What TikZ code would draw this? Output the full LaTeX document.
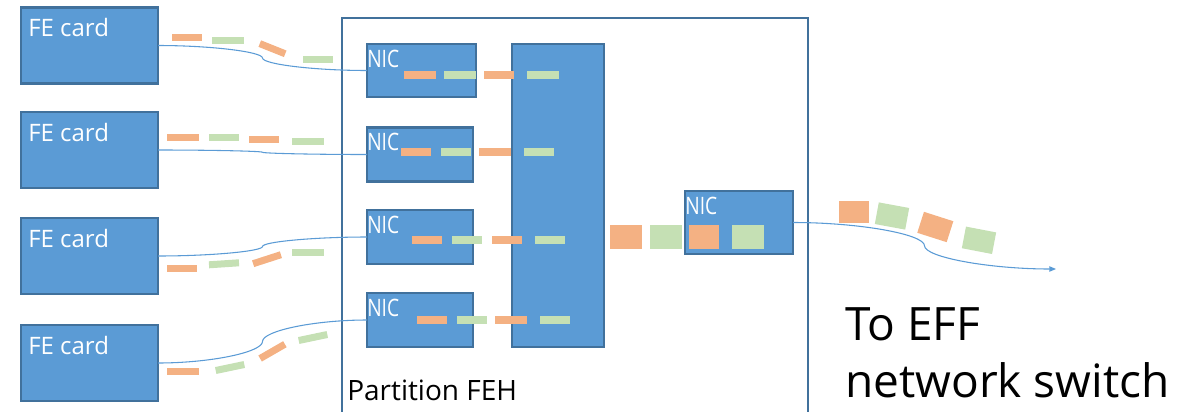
\documentclass[tikz,border=0pt]{standalone}
\usepackage{fontspec}
\setmainfont{Open Sans}
\newfontfamily\nicfont[FakeStretch=0.8]{Open Sans}
\usetikzlibrary{calc,arrows.meta}

\definecolor{boxblue}{HTML}{5B9BD5}
\definecolor{boxedge}{HTML}{41719C}
\definecolor{pktorange}{HTML}{F4B183}
\definecolor{pktgreen}{HTML}{C5E0B4}

% S-shaped connector: flat at both ends, steep in the middle
\newcommand\curvelink[3][]{%
  \path (#2) coordinate (ca) (#3) coordinate (cb)
    ($(ca)!0.25!(cb)$) coordinate (cq)
    ($(ca)!0.5!(cb)$) coordinate (cm)
    ($(ca)!0.75!(cb)$) coordinate (cr);
  \draw[link,#1] (ca) .. controls (cq |- ca) and (cm |- cq) .. (cm)
    .. controls (cm |- cr) and (cr |- cb) .. (cb);}

\tikzset{
  unit/.style={rectangle, fill=boxblue, draw=boxedge, line width=1.9pt,
    inner sep=0pt, outer sep=0pt},
  fecard/.style={unit, minimum width=102.75pt, minimum height=57pt},
  nicbox/.style={unit, minimum width=79.5pt, minimum height=40.5pt},
  link/.style={draw=boxblue, line width=0.8pt},
  boxlabel/.style={anchor=base west, inner sep=0pt, text=white,
    font=\fontsize{18}{20}\selectfont},
  niclabel/.style={boxlabel, font=\nicfont\fontsize{18}{20}\selectfont},
  bigtext/.style={anchor=base west, inner sep=0pt, text=black},
  pkt/.style={line width=5.25pt},
  inpkt/.style={line width=6pt},
  bigpkt/.style={line width=18pt},
  outpkt/.style={line width=16.5pt},
}

\begin{document}
\begin{tikzpicture}[x=0.75pt,y=-0.75pt]
\useasboundingbox (0,0) rectangle (1199,411);

% partition frame (continues below the page)
\node[draw=boxedge, line width=2pt, inner sep=0pt, outer sep=0pt,
  minimum width=349.5pt, minimum height=330pt, anchor=north west]
  (part) at (342,18) {};
\node[bigtext, font=\fontsize{21}{24}\selectfont] (partlabel) at (347,400) {Partition FEH};

% front-end cards
\node[fecard] (fe1) at (89.5,45.5) {};
\node[fecard] (fe2) at (89.5,150) {};
\node[fecard] (fe3) at (89.5,256) {};
\node[fecard] (fe4) at (89.5,363) {};
\foreach \i in {1,...,4}
  \node[boxlabel] (fe\i t) at ($(fe\i.north west)+(7,29)$) {FE card};

% NICs, switch and uplink NIC
\node[nicbox, minimum width=81.75pt, minimum height=39.75pt] (nic1) at (421.5,70.5) {};
\node[nicbox] (nic2) at (420,154.5) {};
\node[nicbox] (nic3) at (420,237) {};
\node[nicbox] (nic4) at (420,320) {};
\node[unit, minimum width=69pt, minimum height=227.25pt] (switch) at (558,195.5) {};
\node[unit, minimum width=81pt, minimum height=47.25pt] (nicout) at (739,222.5) {};
\foreach \n in {nic1,nic2,nic3,nic4,nicout}
  \node[niclabel] (\n t) at ($(\n.north west)+(0,23)$) {NIC};

% cables
\curvelink{fe1.east}{nic1.west}
\curvelink{fe2.east}{nic2.west}
\curvelink{fe3.east}{nic3.west}
\curvelink{fe4.east}{nic4.west}
\coordinate (swend) at (1056,269);
\curvelink[-{Triangle[length=5pt,width=4pt]}]{nicout.east}{swend}

% packets on the cables
\draw[pkt, pktorange] (172,37) -- (202,37);
\draw[pkt, pktgreen] (212,40) -- (244,40);
\draw[pkt, pktorange] (259.8,43.6) -- (285.2,53.8);
\draw[pkt, pktgreen] (303,59) -- (333,59);

\draw[pkt, pktorange] (167,137) -- (199,137);
\draw[pkt, pktgreen] (209,137) -- (239,137);
\draw[pkt, pktorange] (249,139) -- (279,139);
\draw[pkt, pktgreen] (292,141) -- (324,141);

\draw[pkt, pktorange] (167,268.8) -- (197,268.8);
\draw[pkt, pktgreen] (209,264.8) -- (239,262.8);
\draw[pkt, pktorange] (253.1,263.7) -- (280.9,254.7);
\draw[pkt, pktgreen] (292,252.8) -- (324,252.8);

\draw[pkt, pktorange] (167,371) -- (199,371);
\draw[pkt, pktgreen] (215.7,370.5) -- (244.3,364.5);
\draw[pkt, pktorange] (260.1,358.5) -- (284.9,344.2);
\draw[pkt, pktgreen] (298.7,340.5) -- (327.3,334.5);

% packets inside the partition
\draw[inpkt, pktorange] (404,75) -- (436,75);
\draw[inpkt, pktgreen] (444,75) -- (476,75);
\draw[inpkt, pktorange] (484,75) -- (514,75);
\draw[inpkt, pktgreen] (527,75) -- (559,75);

\draw[inpkt, pktorange] (401,152) -- (431,152);
\draw[inpkt, pktgreen] (441,152) -- (471,152);
\draw[inpkt, pktorange] (479,152) -- (511,152);
\draw[inpkt, pktgreen] (524,152) -- (554,152);

\draw[inpkt, pktorange] (412,240) -- (442,240);
\draw[inpkt, pktgreen] (452,240) -- (482,240);
\draw[inpkt, pktorange] (492,240) -- (522,240);
\draw[inpkt, pktgreen] (535,240) -- (565,240);

\draw[inpkt, pktorange] (417,320) -- (447,320);
\draw[inpkt, pktgreen] (457,320) -- (487,320);
\draw[inpkt, pktorange] (495,320) -- (527,320);
\draw[inpkt, pktgreen] (540,320) -- (570,320);

% aggregated stream to the uplink
\draw[bigpkt, pktorange] (610,237) -- (642,237);
\draw[bigpkt, pktgreen] (650,237) -- (682,237);
\draw[bigpkt, pktorange] (689,237) -- (719,237);
\draw[bigpkt, pktgreen] (732,237) -- (764,237);

\draw[outpkt, pktorange] (839,212) -- (869,212);
\draw[outpkt, pktgreen] (876.8,213.2) -- (907.2,218.8);
\draw[outpkt, pktorange] (920.6,222.3) -- (950,231.7);
\draw[outpkt, pktgreen] (963.9,237.4) -- (994.1,243.2);

% destination
\node[bigtext, font=\fontsize{34.5}{40}\selectfont] (dest1) at (845,340) {To EFF};
\node[bigtext, font=\fontsize{34.5}{40}\selectfont] (dest2) at (845,397) {network switch};
\end{tikzpicture}
\end{document}
